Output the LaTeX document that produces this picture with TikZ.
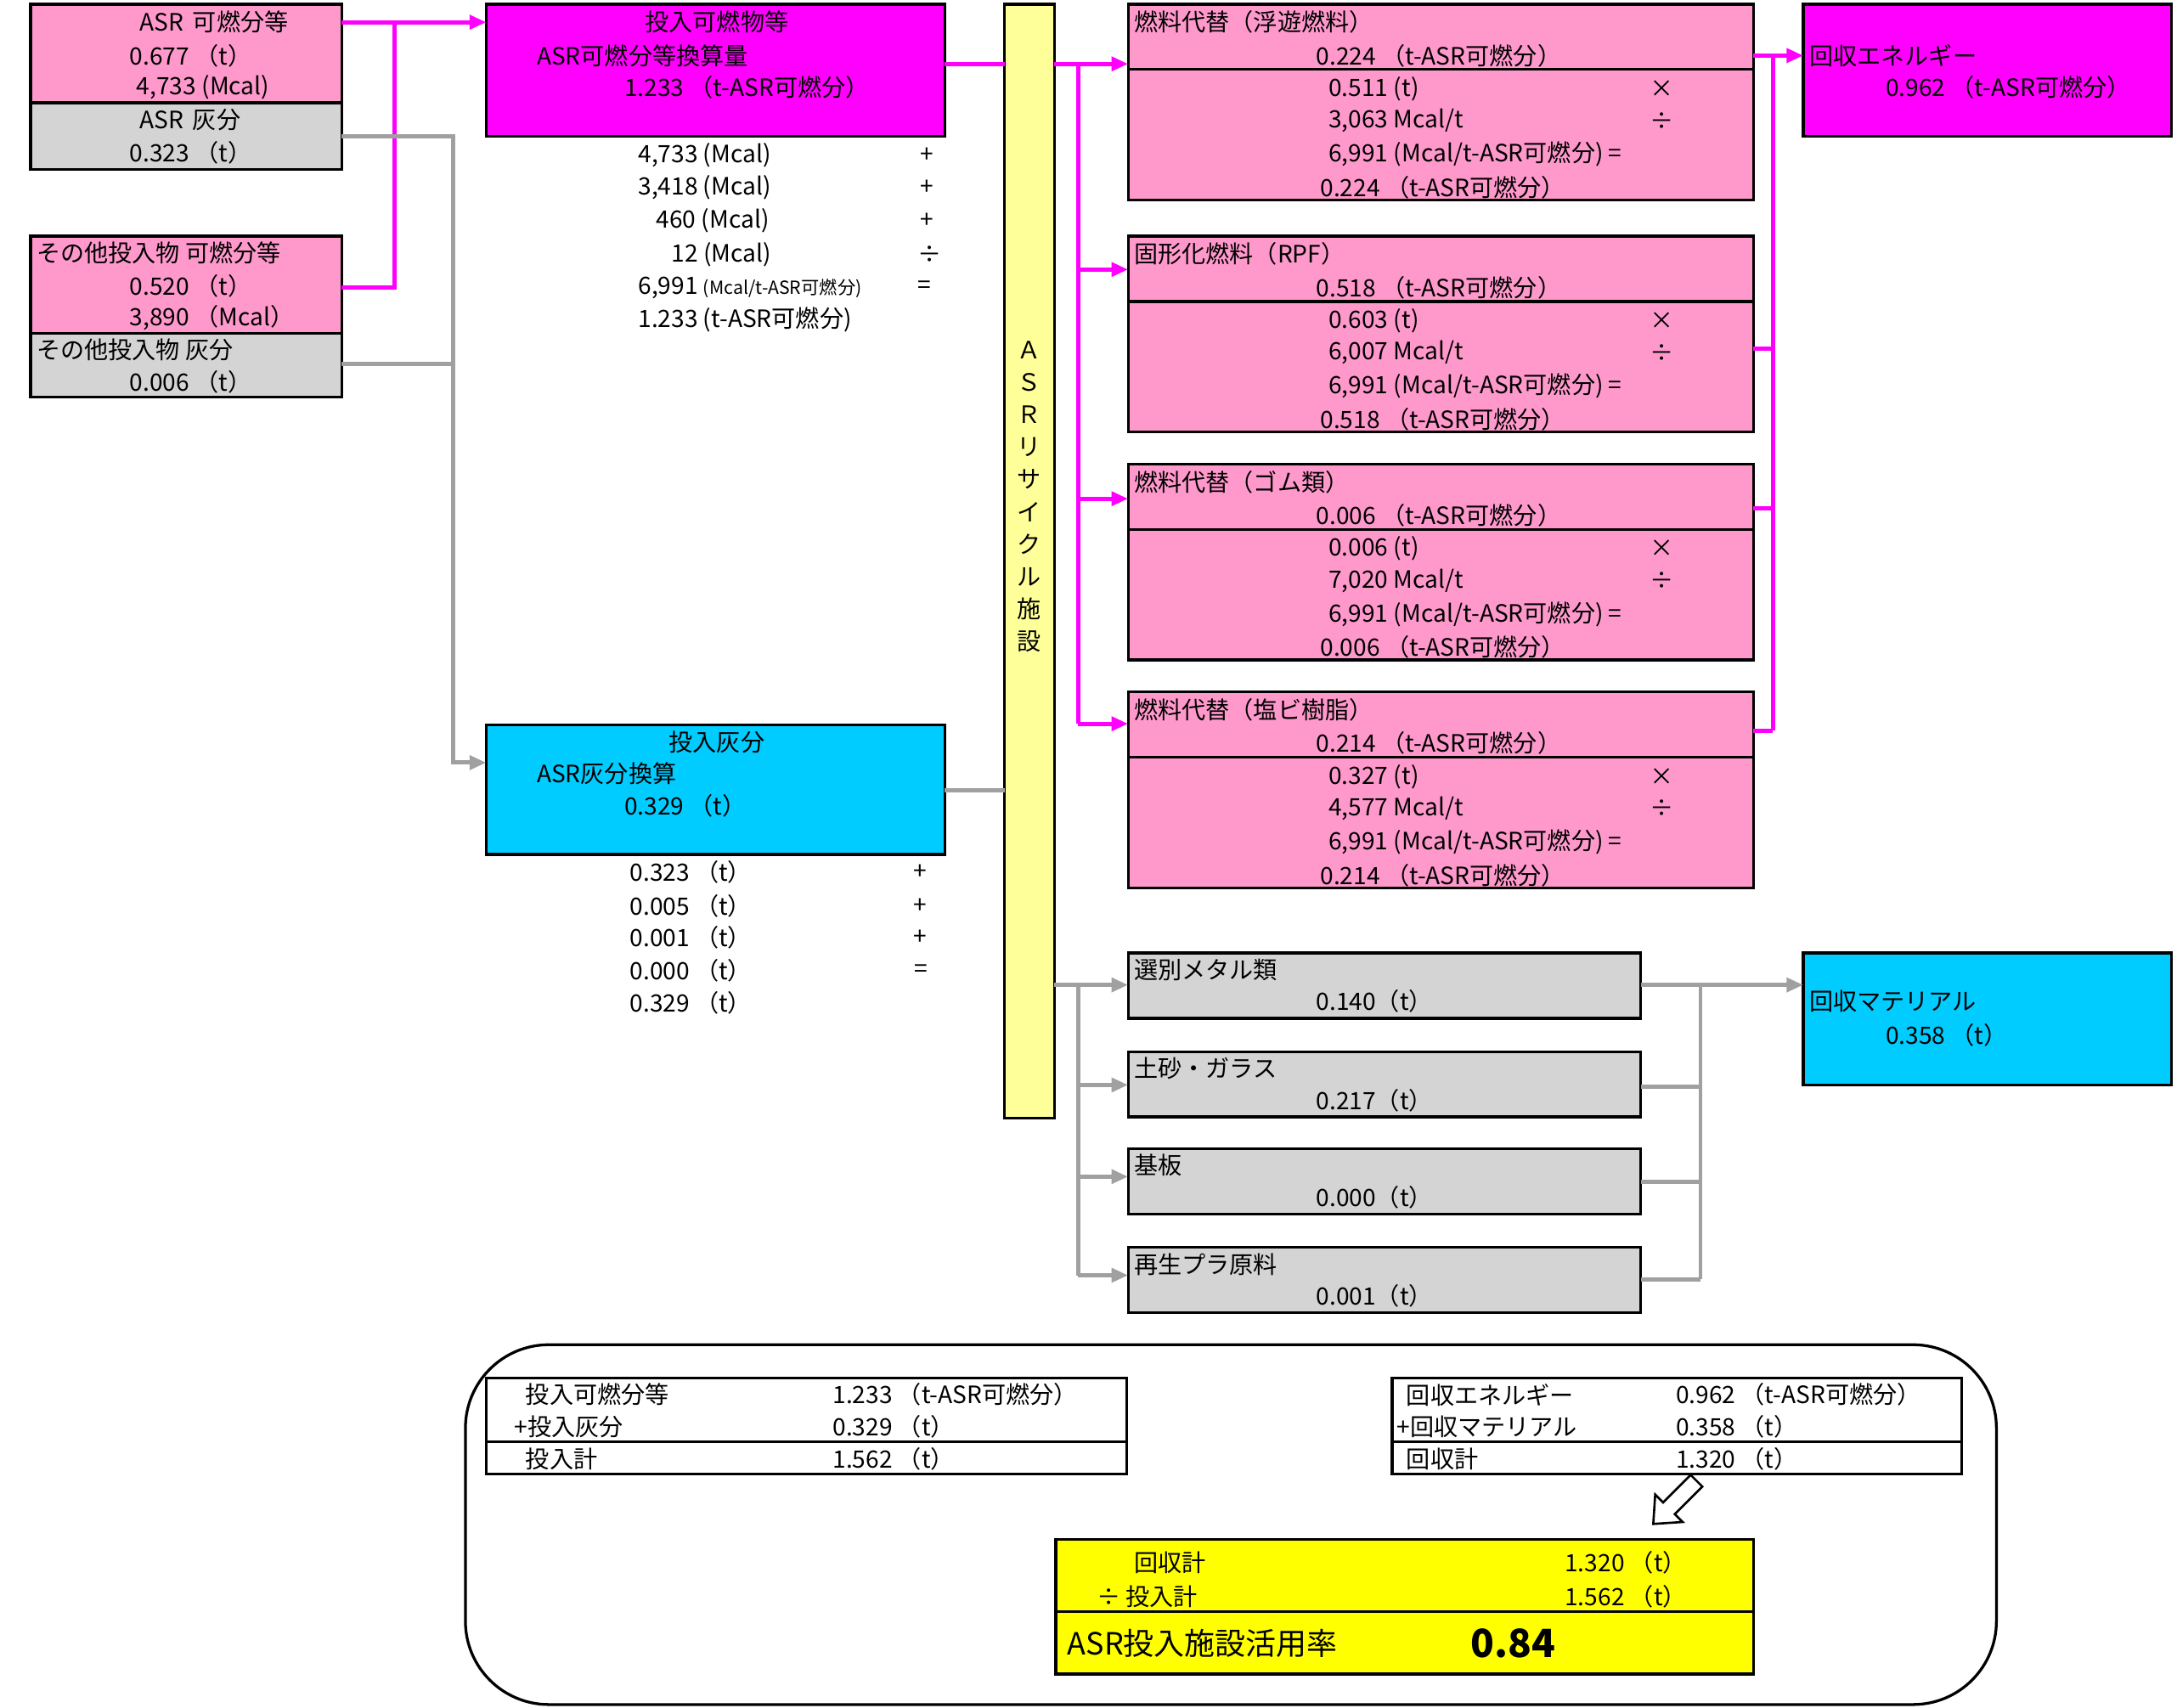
\documentclass[tikz,border=0pt]{standalone}
\usepackage{fontspec}
\setmainfont{Noto Sans CJK JP}
\usetikzlibrary{arrows.meta}
\definecolor{pk}{HTML}{FF99CC}
\definecolor{mg}{HTML}{FF00FF}
\definecolor{gy}{HTML}{D4D4D4}
\definecolor{cy}{HTML}{00CCFF}
\definecolor{yb}{HTML}{FFFF99}
\definecolor{yl}{HTML}{FFFF00}
\definecolor{lk}{HTML}{A0A0A0}
\newcommand\pkbox[6]{%
  \draw[box,fill=pk] (812,#1) rectangle (1262,#1+141);
  \draw[line width=1pt] (812,#1+47) -- (1262,#1+47);
  \node[t] at (816,#1+13) {#2};
  \node[t] at (947,#1+37) {#3 （t-ASR可燃分）};
  \node[t] at (956,#1+61) {#4 (t)}; \node[t] at (1187,#1+61) {×};
  \node[t] at (956,#1+84) {#5 Mcal/t}; \node[t] at (1187,#1+84) {÷};
  \node[t] at (956,#1+108) {6,991 (Mcal/t-ASR可燃分) =};
  \node[t] at (950,#1+132) {#6 （t-ASR可燃分）};}
\begin{document}
\begin{tikzpicture}[x=0.5pt,y=-0.5pt,
  box/.style={draw=black,line width=1pt},
  t/.style={anchor=west,inner sep=0pt,font=\fontsize{8.6}{10}\selectfont},
  mline/.style={draw=mg,line width=1.5pt},
  gline/.style={draw=lk,line width=1.5pt},
  ar/.style={-{Triangle[length=6pt,width=5pt]}}]
\useasboundingbox (0,0) rectangle (1567,1229);
% left boxes
\draw[box,fill=pk] (22,3) rectangle (246,74);
\draw[box,fill=gy] (22,74) rectangle (246,122);
\draw[box,fill=pk] (22,170) rectangle (246,240);
\draw[box,fill=gy] (22,240) rectangle (246,286);
\node[t] at (100,16) {ASR\, 可燃分等};
\node[t] at (93,40) {0.677 （t）};
\node[t] at (98,63) {4,733 (Mcal)};
\node[t] at (100,86) {ASR\, 灰分};
\node[t] at (93,110) {0.323 （t）};
\node[t] at (26,182) {その他投入物 可燃分等};
\node[t] at (93,206) {0.520 （t）};
\node[t] at (93,229) {3,890 （Mcal）};
\node[t] at (26,252) {その他投入物 灰分};
\node[t] at (93,275) {0.006 （t）};
% magenta input
\draw[box,fill=mg] (350,3) rectangle (680,98);
\node[t,anchor=center] at (516,16) {投入可燃物等};
\node[t] at (386,40) {ASR可燃分等換算量};
\node[t] at (449,63) {1.233 （t-ASR可燃分）};
\node[t] at (459,112) {4,733 (Mcal)}; \node[t] at (662,112) {+};
\node[t] at (459,135) {3,418 (Mcal)}; \node[t] at (662,135) {+};
\node[t] at (472,159) {460 (Mcal)}; \node[t] at (662,159) {+};
\node[t] at (483,183) {12 (Mcal)}; \node[t] at (660,183) {÷};
\node[t] at (459,207) {6,991 {\fontsize{6.5}{8}\selectfont (Mcal/t-ASR可燃分)}}; \node[t] at (660,207) {=};
\node[t] at (459,230) {1.233 (t-ASR可燃分)};
% cyan input
\draw[box,fill=cy] (350,522) rectangle (680,615);
\node[t,anchor=center] at (516,534) {投入灰分};
\node[t] at (386,557) {ASR灰分換算};
\node[t] at (449,580) {0.329 （t）};
\node[t] at (453,628) {0.323 （t）}; \node[t] at (657,628) {+};
\node[t] at (453,652) {0.005 （t）}; \node[t] at (657,652) {+};
\node[t] at (453,675) {0.001 （t）}; \node[t] at (657,675) {+};
\node[t] at (453,699) {0.000 （t）}; \node[t] at (658,699) {=};
\node[t] at (453,722) {0.329 （t）};
% bar
\draw[box,fill=yb] (723,3) rectangle (759,805);
\foreach \c [count=\i] in {Ａ,Ｓ,Ｒ,リ,サ,イ,ク,ル,施,設}
  \node[t,anchor=center] at (741,252+23.3*\i-23.3) {\c};
% pink boxes
\pkbox{3}{燃料代替（浮遊燃料）}{0.224}{0.511}{3,063}{0.224}
\pkbox{170}{固形化燃料（RPF）}{0.518}{0.603}{6,007}{0.518}
\pkbox{334}{燃料代替（ゴム類）}{0.006}{0.006}{7,020}{0.006}
\pkbox{498}{燃料代替（塩ビ樹脂）}{0.214}{0.327}{4,577}{0.214}
\draw[box,fill=mg] (1298,3) rectangle (1563,98);
\node[t] at (1302,40) {回収エネルギー};
\node[t] at (1357,63) {0.962 （t-ASR可燃分）};
% grey boxes
\foreach \y/\h/\v in {686/選別メタル類/0.140,757/土砂・ガラス/0.217,827/基板/0.000,898/再生プラ原料/0.001}{
  \draw[box,fill=gy] (812,\y) rectangle (1181,\y+47);
  \node[t] at (816,\y+12) {\h};
  \node[t] at (947,\y+35) {\v （t）};}
\draw[box,fill=cy] (1298,686) rectangle (1563,781);
\node[t] at (1302,721) {回収マテリアル};
\node[t] at (1357,745) {0.358 （t）};
% connectors
\draw[mline,ar] (246,16) -- (350,16);
\draw[mline] (246,207) -- (284,207) -- (284,16);
\draw[gline,ar] (246,98) -- (326,98) -- (326,549) -- (350,549);
\draw[gline] (246,262) -- (326,262);
\draw[mline] (680,46) -- (723,46);
\draw[gline] (680,569) -- (723,569);
\draw[mline] (759,46) -- (776,46) -- (776,521);
\foreach \y in {46,194,359,521} \draw[mline,ar] (776,\y) -- (812,\y);
\draw[gline] (759,709) -- (776,709) -- (776,918);
\foreach \y in {709,781,847,918} \draw[gline,ar] (776,\y) -- (812,\y);
\foreach \y in {40,251,366,526} \draw[mline] (1262,\y) -- (1276,\y);
\draw[mline] (1276,40) -- (1276,526);
\draw[mline,ar] (1276,40) -- (1298,40);
\foreach \y in {709,782,851,921} \draw[gline] (1181,\y) -- (1224,\y);
\draw[gline] (1224,709) -- (1224,921);
\draw[gline,ar] (1224,709) -- (1298,709);
% summary
\draw[line width=1pt,rounded corners=30pt] (335,968) rectangle (1437,1227);
\draw[box] (350,992) rectangle (811,1061); \draw[line width=1pt] (350,1038) -- (811,1038);
\node[t] at (378,1004) {投入可燃分等}; \node[t] at (599,1004) {1.233 （t-ASR可燃分）};
\node[t] at (370,1027) {+投入灰分}; \node[t] at (599,1027) {0.329 （t）};
\node[t] at (378,1050) {投入計}; \node[t] at (599,1050) {1.562 （t）};
\draw[box] (1002,992) rectangle (1412,1061); \draw[line width=1pt] (1002,1038) -- (1412,1038);
\node[t] at (1012,1004) {回収エネルギー}; \node[t] at (1206,1004) {0.962 （t-ASR可燃分）};
\node[t] at (1005,1027) {+回収マテリアル}; \node[t] at (1206,1027) {0.358 （t）};
\node[t] at (1012,1050) {回収計}; \node[t] at (1206,1050) {1.320 （t）};
\draw[line width=0.8pt,fill=white] (1190,1097) -- (1211.2,1095.6) -- (1205.5,1089.9) -- (1225.3,1070.1) -- (1216.9,1061.7) -- (1197.1,1081.5) -- (1191.4,1075.8) -- cycle;
\draw[box,fill=yl] (760,1108) rectangle (1262,1205); \draw[line width=1pt] (760,1160) -- (1262,1160);
\node[t] at (816,1125) {回収計}; \node[t] at (1126,1125) {1.320 （t）};
\node[t] at (789,1149) {÷ 投入計}; \node[t] at (1126,1149) {1.562 （t）};
\node[t,font=\fontsize{11}{12}\selectfont] at (768,1183) {ASR投入施設活用率};
\node[t,font=\fontsize{14}{15}\selectfont\bfseries] at (1058,1183) {0.84};
\end{tikzpicture}
\end{document}
